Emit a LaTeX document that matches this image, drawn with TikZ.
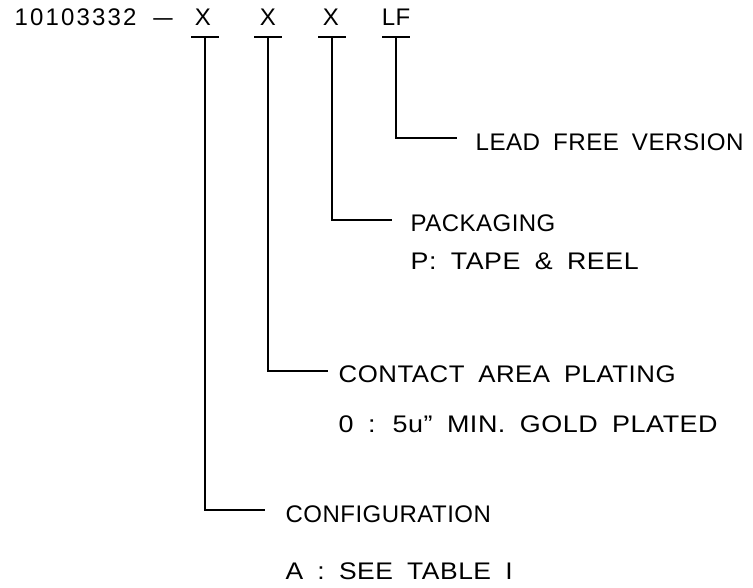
\documentclass[tikz,border=0pt]{standalone}
\usepackage{graphicx}
\usepackage{fontspec}
\setmainfont{Liberation Sans}[WordSpace=1.8, LetterSpace=2]
\newcommand{\fitw}[2]{\resizebox{#1}{\height}{#2}}
\begin{document}
\begin{tikzpicture}[x=1pt,y=-1pt, line width=1.3pt,
  txt/.style={font=\fontsize{24}{28}\selectfont, inner sep=0pt},
  lbl/.style={txt, anchor=base west},
  code/.style={txt, anchor=base}]
\useasboundingbox (0,0) rectangle (753,588);
% top row
\node[lbl] (pn) at (14,26) {\addfontfeature{LetterSpace=9}10103332};
\node[code] (dash) at (163,26) {\scalebox{1.45}[1]{–}};
\node[code] (x1) at (203,26) {X};
\node[code] (x2) at (268,26) {X};
\node[code] (x3) at (331,26) {X};
\node[code] (lf) at (396,26) {LF};
% underlines
\coordinate (u1) at (205,37);
\coordinate (u2) at (268,37);
\coordinate (u3) at (332,37);
\coordinate (u4) at (396,37);
\foreach \u in {u1,u2,u3,u4}
  \draw ([xshift=-14pt]\u) -- ([xshift=14pt]\u);
% branch ends
\coordinate (e4) at (457,138);
\coordinate (e3) at (392,220);
\coordinate (e2) at (328,371);
\coordinate (e1) at (265,510);
\draw (u4) |- (e4);
\draw (u3) |- (e3);
\draw (u2) |- (e2);
\draw (u1) |- (e1);
% labels
\node[lbl] (l4) at (475,151) {\fitw{268pt}{LEAD FREE VERSION}};
\node[lbl] (l3) at (410,232) {PACKAGING};
\node[lbl] (l3b) at (410,270) {\fitw{228pt}{P: TAPE \& REEL}};
\node[lbl] (l2) at (338,382) {\fitw{337pt}{CONTACT AREA PLATING}};
\node[lbl] (l2b) at (338,432) {\fitw{379pt}{0 : 5u” MIN. GOLD PLATED}};
\node[lbl] (l1) at (285,522) {CONFIGURATION};
\node[lbl] (l1b) at (285,579) {\fitw{227pt}{A : SEE TABLE I}};
\end{tikzpicture}
\end{document}
